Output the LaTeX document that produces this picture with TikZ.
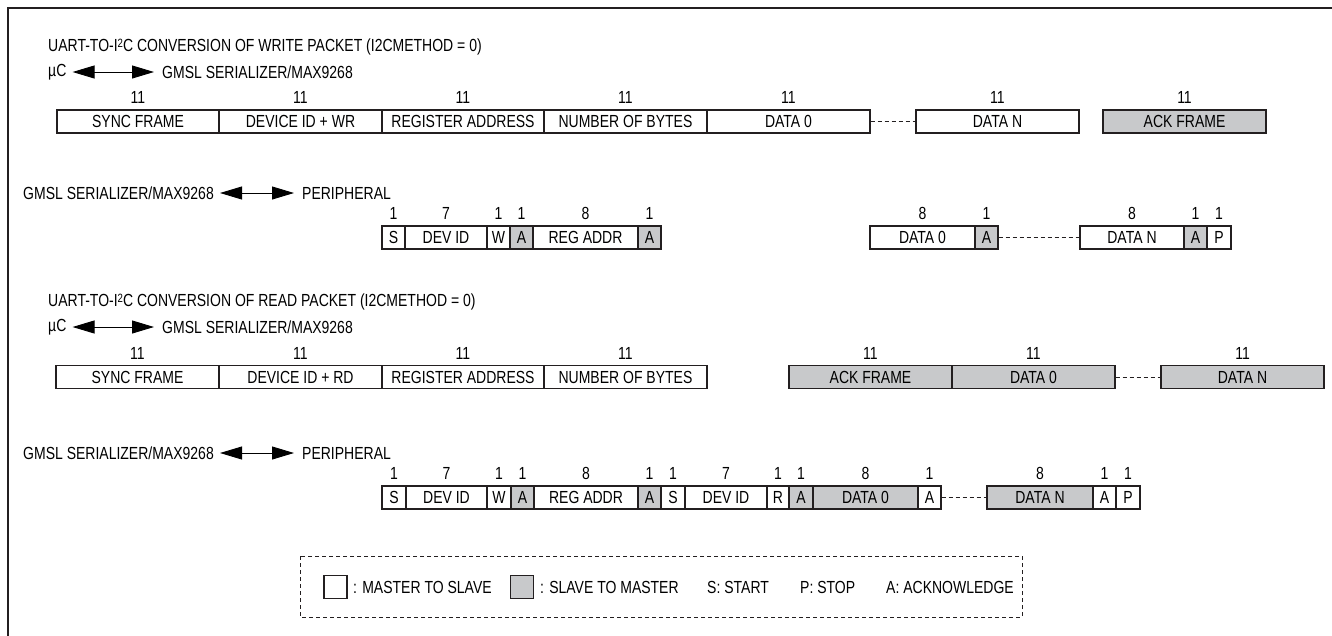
\documentclass[tikz,border=0pt]{standalone}
\usepackage{fontspec}
\setmainfont{Liberation Sans}[FakeStretch=0.8]
\usetikzlibrary{arrows.meta,positioning}
\definecolor{slavegray}{RGB}{200,201,203}
\definecolor{inkgray}{RGB}{35,31,32}
\newcommand{\twosup}{\raisebox{4pt}{\fontsize{12}{12}\selectfont 2}}

\begin{document}
\begin{tikzpicture}[x=1pt, y=-1pt,
    field/.style={draw=inkgray, line width=1.3pt, inner sep=0pt, minimum height=23pt, font=\fontsize{17.5}{18}\selectfont},
    bits/.style={inner sep=0pt, above=5.5pt, font=\fontsize{17.5}{18}\selectfont},
    txt/.style={inner sep=0pt, anchor=west, font=\fontsize{17.5}{18}\selectfont},
    gap/.style={draw=inkgray, dash pattern=on 4pt off 3pt, line width=0.8pt},
    dir/.style={{Triangle[length=22pt,width=13pt]}-{Triangle[length=22pt,width=13pt]}, line width=0.9pt, shorten <=6pt, shorten >=8pt}]
    \useasboundingbox (0,0) rectangle (1332,635);
    \draw[inkgray, line width=2pt] (8,650) -- (8,8) -- (1345,8);

    % write packet, uart side
    \node[txt] (wtitle) at (48,47) {UART-TO-I\twosup C CONVERSION OF WRITE PACKET (I2CMETHOD = 0)};
    \node[txt] (wmu) at (48,72) {µC};
    \node[txt] (wser) at (162,72) {GMSL SERIALIZER/MAX9268};
    \draw[dir] (wmu.east) -- (wser.west);
    \foreach \xa/\xb/\lab/\n/\fc [count=\i] in {57/219/SYNC FRAME/11/white, 219/382/DEVICE ID + WR/11/white,
        382/544/REGISTER ADDRESS/11/white, 544/707/NUMBER OF BYTES/11/white, 707/870/DATA 0/11/white,
        916/1079/DATA N/11/white, 1103/1266/ACK FRAME/11/slavegray} {
      \node[field, fill=\fc, minimum width={(\xb-\xa)*1pt}] (wu\i) at ({(\xa+\xb)/2}, 121.5) {\lab};
      \node[bits] at (wu\i.north) {\n};
    }
    \draw[gap] (wu5.east) -- (wu6.west);

    % write packet, i2c side
    \node[txt] (wgms) at (23,193) {GMSL SERIALIZER/MAX9268};
    \node[txt] (wper) at (302,193) {PERIPHERAL};
    \draw[dir] (wgms.east) -- (wper.west);
    \foreach \xa/\xb/\lab/\n/\fc [count=\i] in {382/405/S/1/white, 405/487/DEV ID/7/white, 487/510/W/1/white,
        510/533/A/1/slavegray, 533/638/REG ADDR/8/white, 638/661/A/1/slavegray, 870/975/DATA 0/8/white,
        975/998/A/1/slavegray, 1080/1184/DATA N/8/white, 1184/1207/A/1/slavegray, 1207/1231/P/1/white} {
      \node[field, fill=\fc, minimum width={(\xb-\xa)*1pt}] (wi\i) at ({(\xa+\xb)/2}, 237.5) {\lab};
      \node[bits] at (wi\i.north) {\n};
    }
    \draw[gap] (wi8.east) -- (wi9.west);

    % read packet, uart side
    \node[txt] (rtitle) at (48,302) {UART-TO-I\twosup C CONVERSION OF READ PACKET (I2CMETHOD = 0)};
    \node[txt] (rmu) at (48,327) {µC};
    \node[txt] (rser) at (162,327) {GMSL SERIALIZER/MAX9268};
    \draw[dir] (rmu.east) -- (rser.west);
    \foreach \xa/\xb/\lab/\n/\fc [count=\i] in {56/219/SYNC FRAME/11/white, 219/382/DEVICE ID + RD/11/white,
        382/544/REGISTER ADDRESS/11/white, 544/707/NUMBER OF BYTES/11/white, 789/952/ACK FRAME/11/slavegray,
        952/1115/DATA 0/11/slavegray, 1161/1324/DATA N/11/slavegray} {
      \node[field, fill=\fc, minimum width={(\xb-\xa)*1pt}] (ru\i) at ({(\xa+\xb)/2}, 377) {\lab};
      \node[bits] at (ru\i.north) {\n};
    }
    \draw[gap] (ru6.east) -- (ru7.west);

    % read packet, i2c side
    \node[txt] (rgms) at (23,453) {GMSL SERIALIZER/MAX9268};
    \node[txt] (rper) at (302,453) {PERIPHERAL};
    \draw[dir] (rgms.east) -- (rper.west);
    \foreach \xa/\xb/\lab/\n/\fc [count=\i] in {382/406/S/1/white, 406/487/DEV ID/7/white, 487/511/W/1/white,
        511/534/A/1/slavegray, 534/638/REG ADDR/8/white, 638/661/A/1/slavegray, 661/685/S/1/white,
        685/767/DEV ID/7/white, 767/789/R/1/white, 789/813/A/1/slavegray, 813/918/DATA 0/8/slavegray,
        918/941/A/1/white, 987/1093/DATA N/8/slavegray, 1093/1116/A/1/white, 1116/1140/P/1/white} {
      \node[field, fill=\fc, minimum width={(\xb-\xa)*1pt}] (ri\i) at ({(\xa+\xb)/2}, 497.5) {\lab};
      \node[bits] at (ri\i.north) {\n};
    }
    \draw[gap] (ri12.east) -- (ri13.west);

    % legend
    \draw[gap] (300,556) rectangle (1022,617);
    \node[field, fill=white, minimum width=23pt] (mkey) at (335.5,587) {};
    \node[txt] (mlab) at (353,587) {: MASTER TO SLAVE};
    \node[field, fill=slavegray, minimum width=23pt] (skey) at (522,587) {};
    \node[txt] (slab) at (540,587) {: SLAVE TO MASTER};
    \node[txt] (start) at (707,587) {S: START};
    \node[txt] (stop) at (800,587) {P: STOP};
    \node[txt] (ackn) at (886,587) {A: ACKNOWLEDGE};
\end{tikzpicture}
\end{document}
